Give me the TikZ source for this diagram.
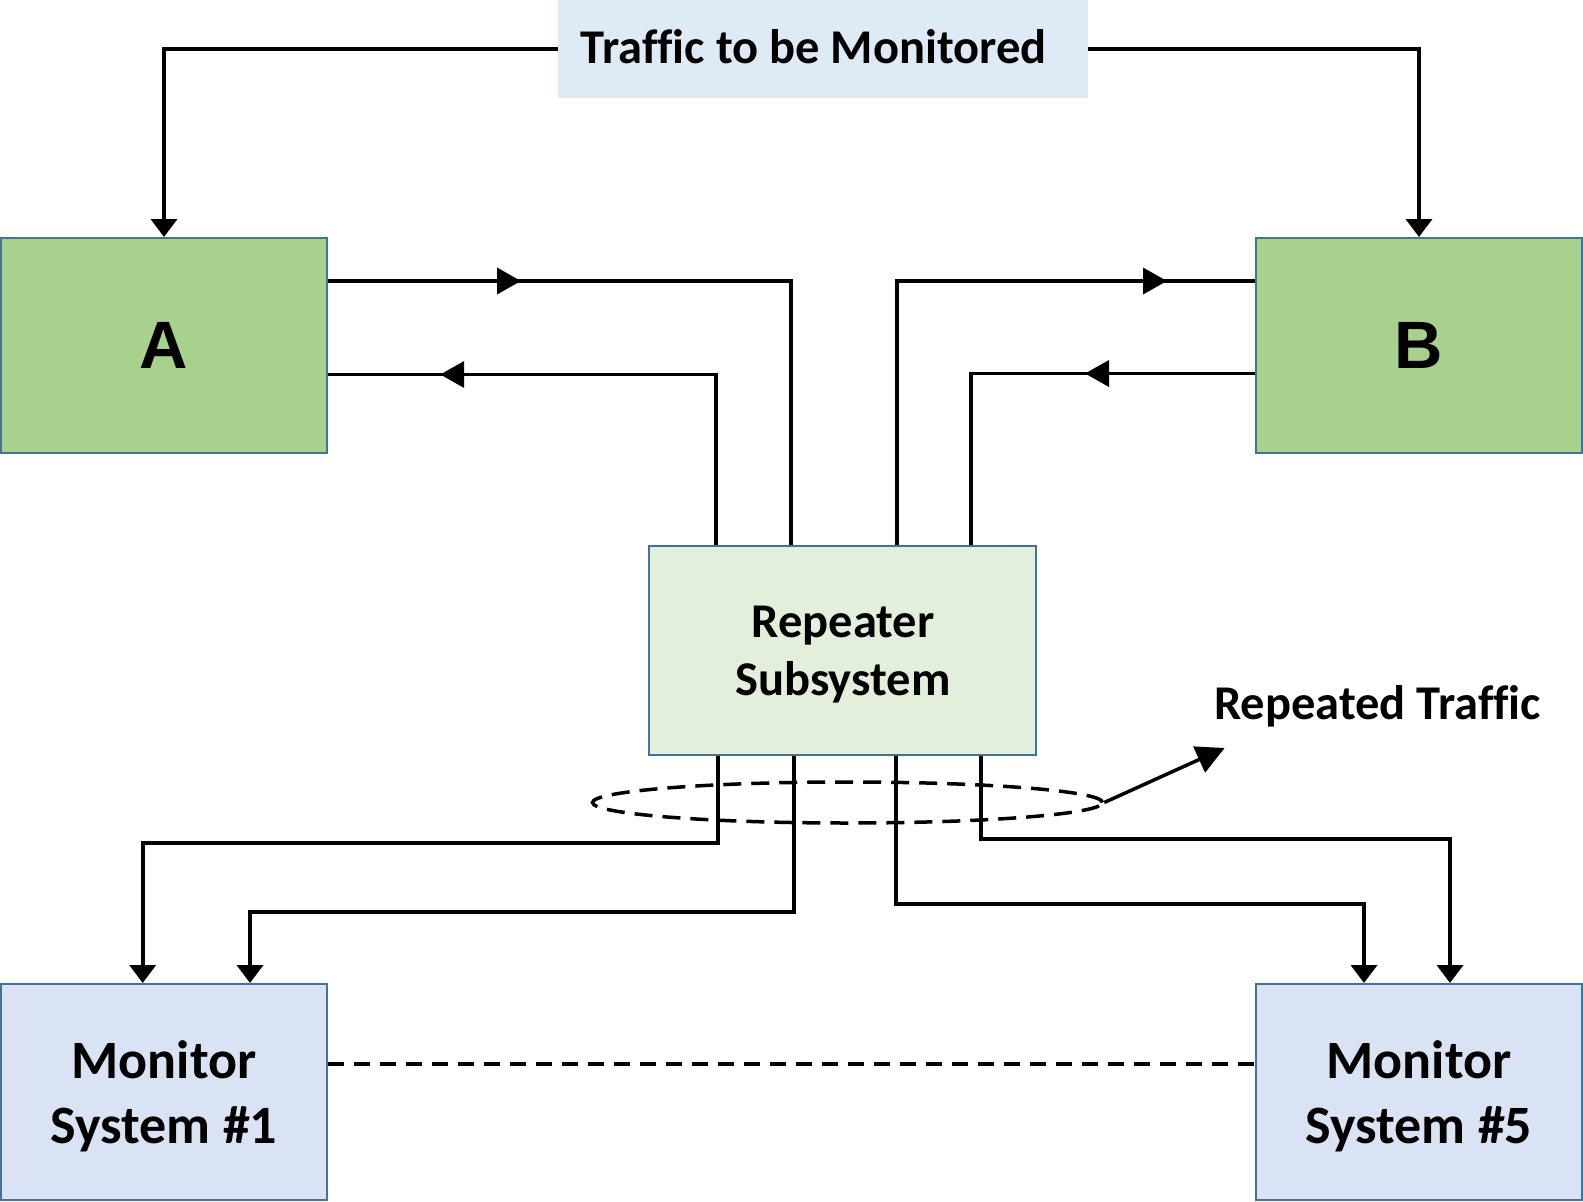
\documentclass[tikz,border=0pt]{standalone}
\usepackage{fontspec}
\setmainfont{Carlito}[Ligatures=NoCommon]
\newfontfamily\arialish{Liberation Sans}
\usetikzlibrary{arrows.meta,shapes.geometric,decorations.markings}
\definecolor{tfill}{HTML}{DEEBF7}
\definecolor{gfill}{HTML}{A9D18E}
\definecolor{rfill}{HTML}{E2EFDA}
\definecolor{mfill}{HTML}{DAE3F3}
\definecolor{edgeblue}{HTML}{41719C}
\begin{document}
\begin{tikzpicture}[x=1pt,y=-1pt,
  boxstyle/.style={draw=edgeblue, line width=2pt, inner sep=0pt},
  bigbox/.style={boxstyle, minimum width=326pt, minimum height=215pt},
  wire/.style={line width=3.8pt, line join=miter},
  endtip/.style={-{Triangle[length=18pt,width=26pt]}},
  midtip/.style={postaction={decorate}, decoration={markings,
      mark=at position #1 with {\arrow{Triangle[length=24pt,width=26pt]}}}},
  lbl/.style={inner sep=0pt, font=\bfseries\fontsize{48.5}{58}\selectfont},
  mlbl/.style={inner sep=0pt, font=\bfseries\fontsize{54}{65}\selectfont},
  rlbl/.style={inner sep=0pt, font=\bfseries\fontsize{48.5}{58}\selectfont},
  letter/.style={font=\arialish\bfseries\fontsize{67}{80}\selectfont}]
\useasboundingbox (0,0) rectangle (1583,1202);

% boxes
\node[fill=tfill, minimum width=530pt, minimum height=98pt, inner sep=0pt] (T) at (823,49) {};
\node[lbl, anchor=base west] (Ttxt) at (580.7,63.3) {Traffic to be Monitored};
\node[bigbox, fill=gfill, letter] (A) at (164,345.5) {A};
\node[bigbox, fill=gfill, letter] (B) at (1419,345.5) {B};
\node[boxstyle, fill=rfill, minimum width=387pt, minimum height=209pt] (R) at (842.5,650.5) {};
\node[rlbl, anchor=base] (R1) at (843,637) {Repeater};
\node[rlbl, anchor=base] (R2) at (843,695) {Subsystem};
\node[bigbox, fill=mfill, minimum height=216pt] (M1) at (164,1092) {};
\node[bigbox, fill=mfill, minimum height=216pt] (M5) at (1419,1092) {};
\node[mlbl, anchor=base] (M1a) at (164,1078) {Monitor};
\node[mlbl, anchor=base] (M1b) at (164,1143) {System \#1};
\node[mlbl, anchor=base] (M5a) at (1419,1078) {Monitor};
\node[mlbl, anchor=base] (M5b) at (1419,1143) {System \#5};
\node[lbl, anchor=base west] (RT) at (1214,719) {Repeated Traffic};

% helper coordinates
\coordinate (yA1) at (0,281);
\coordinate (yA2) at (0,374.5);
\coordinate (yB2) at (0,373.5);
\coordinate (xa1) at (790.7,0);
\coordinate (xa2) at (715.7,0);
\coordinate (xb1) at (897,0);
\coordinate (xb2) at (970.7,0);
\coordinate (xq1) at (718.3,0);
\coordinate (xq2) at (794.3,0);
\coordinate (xq3) at (896,0);
\coordinate (xq4) at (981.3,0);
\coordinate (yq1) at (0,843);
\coordinate (yq2) at (0,911.7);
\coordinate (yq3) at (0,903.6);
\coordinate (yq4) at (0,839);
\coordinate (xm1) at (142.7,0);
\coordinate (xm2) at (250,0);
\coordinate (xm3) at (1364,0);
\coordinate (xm4) at (1450,0);
\coordinate (ydash) at (0,1064);
\coordinate (rtip) at (1224.6,748);

% traffic to A and B
\draw[wire, endtip] (T.west) -| (A.north);
\draw[wire, endtip] (T.east) -| (B.north);

% A / B to repeater
\draw[wire, midtip=193pt] (A.east |- yA1) -| (R.north -| xa1);
\draw[wire, midtip=446pt] (R.north -| xa2) |- (A.east |- yA2);
\draw[wire, midtip=534pt] (R.north -| xb1) |- (B.west |- yA1);
\draw[wire, midtip=170pt] (B.west |- yB2) -| (R.north -| xb2);

% repeater to monitors
\draw[wire, endtip] (R.south -| xq1) -- (xq1 |- yq1) -| (M1.north -| xm1);
\draw[wire, endtip] (R.south -| xq2) -- (xq2 |- yq2) -| (M1.north -| xm2);
\draw[wire, endtip] (R.south -| xq3) -- (xq3 |- yq3) -| (M5.north -| xm3);
\draw[wire, endtip] (R.south -| xq4) -- (xq4 |- yq4) -| (M5.north -| xm4);

% repeated traffic ellipse
\node[ellipse, draw, line width=3.5pt, dash pattern=on 18pt off 10pt, minimum width=510pt, minimum height=41pt, inner sep=0pt] (E) at (847.5,802.5) {};
\draw[line width=3.5pt, -{Triangle[length=28pt,width=28pt]}] (E.east) -- (rtip);

% dashed link between monitors
\draw[line width=3.2pt, dash pattern=on 16pt off 10pt] (M1.east |- ydash) -- (M5.west |- ydash);
\end{tikzpicture}
\end{document}
